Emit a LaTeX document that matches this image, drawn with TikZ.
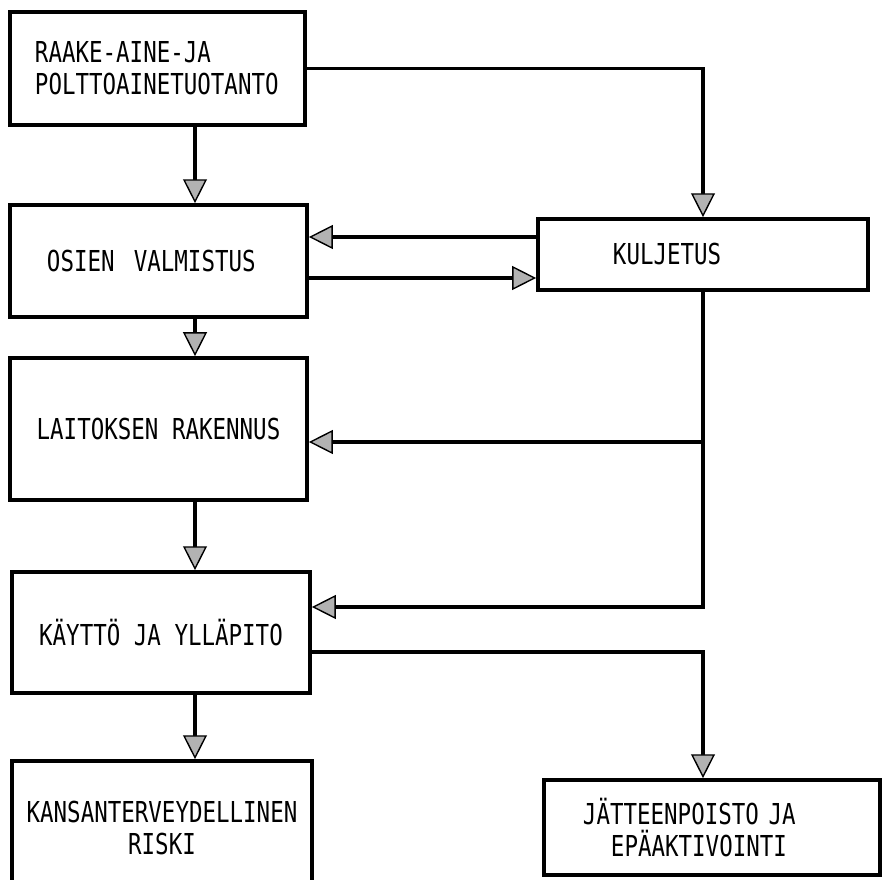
\documentclass[tikz,border=0pt]{standalone}
\usepackage{fontspec}
\newfontfamily\boxfont[FakeStretch=0.78]{DejaVu Sans Mono}
\usetikzlibrary{arrows.meta,positioning}
\tikzstyle{box}=[draw,rectangle,line width=2.6pt,inner ysep=0pt,align=left,
  font=\boxfont\fontsize{20.5}{23}\selectfont]
\tikzstyle{arr}=[line width=2.8pt,
  -{Triangle[length=17pt,width=17pt,fill=gray!60,line width=1pt]}]

\begin{document}
\begin{tikzpicture}[x=0.025cm, y=-0.025cm]
  \useasboundingbox (0,0) rectangle (884,880);
  % left column
  \node[box, text width=6.125cm, inner xsep=0.625cm, minimum height=2.825cm]
  (raw) at (157.5,68.5) {RAAKE-AINE-JA\\POLTTOAINETUOTANTO};
  \node[box, text width=5.575cm, inner xsep=0.925cm, minimum height=2.8cm]
  (osien) at (158.5,261) {OSIEN\ \ VALMISTUS};
  \node[box, minimum width=7.425cm, minimum height=3.55cm]
  (laitos) at (158.5,429) {LAITOKSEN RAKENNUS};
  \node[box, minimum width=7.45cm, minimum height=3.025cm]
  (kaytto) at (161,632.5) {KÄYTTÖ JA YLLÄPITO};
  \node[box, align=center, minimum width=7.5cm, minimum height=3.35cm]
  (kansan) at (162,828) {KANSANTERVEYDELLINEN\\RISKI};
  % right column
  \node[box, text width=4.5cm, inner xsep=1.875cm, minimum height=1.775cm]
  (kulj) at (703,254.5) {KULJETUS};
  \node[box, text width=6.45cm, inner xsep=0.975cm, minimum height=2.375cm]
  (jatte) at (712,827.5) {JÄTTEENPOISTO~JA\\\hspace*{0.7cm}EPÄAKTIVOINTI};

  \coordinate (vx) at (195,0);
  \coordinate (ya) at (0,237);
  \coordinate (yb) at (0,278);
  \coordinate (yc) at (0,442);
  \coordinate (yd) at (0,607);
  \coordinate (ye) at (0,652);

  \draw[arr] (raw.south -| vx) -- (osien.north -| vx);
  \draw[arr] (raw.east) -| (kulj.north);
  \draw[arr] (kulj.west |- ya) -- (osien.east |- ya);
  \draw[arr] (osien.east |- yb) -- (kulj.west |- yb);
  \draw[arr] (osien.south -| vx) -- (laitos.north -| vx);
  \draw[arr] (laitos.south -| vx) -- (kaytto.north -| vx);
  \draw[arr] (kaytto.south -| vx) -- (kansan.north -| vx);
  \draw[arr] (kulj.south) |- (laitos.east |- yc);
  \draw[arr] (kulj.south) |- (kaytto.east |- yd);
  \draw[arr] (kaytto.east |- ye) -| (jatte.north -| kulj.south);
\end{tikzpicture}
\end{document}
